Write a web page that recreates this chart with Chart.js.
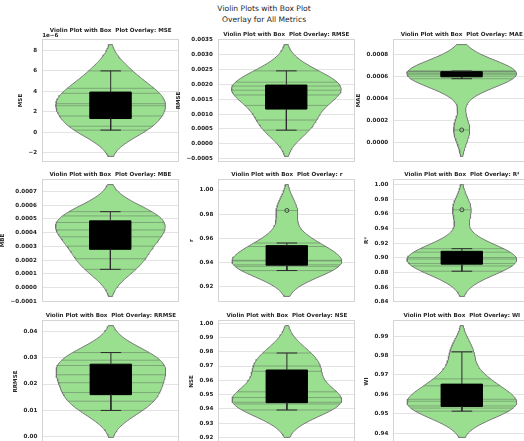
<!DOCTYPE html>
<html>
<head>
<meta charset="utf-8">
<script src="https://cdn.jsdelivr.net/npm/chart.js@4.4.1/dist/chart.umd.min.js"></script>
<style>
  html, body { margin: 0; padding: 0; background: #fff; width: 524px; height: 441px; overflow: hidden; position: relative; }
  #suptitle { position: absolute; left: 0; top: 3px; width: 528px; text-align: center;
              font-family: 'DejaVu Sans', sans-serif; font-size: 7.6px; line-height: 11px; color: #262626; }
  .panel { position: absolute; }
</style>
</head>
<body>
<div id="suptitle">Violin Plots with Box Plot<br>Overlay for All Metrics</div>
<script>
// ---- observations per metric ----
const metricNames = ['MSE', 'RMSE', 'MAE', 'MBE', 'r', 'R²', 'RRMSE', 'NSE', 'WI'];
const mseValues   = [0.22e-6, 0.60e-6, 1.60e-6, 2.60e-6, 2.80e-6, 3.81e-6, 4.30e-6, 6.00e-6];
const rmseValues  = [0.00046, 0.00080, 0.00129, 0.00164, 0.00180, 0.00194, 0.00207, 0.00245];
const maeValues   = [0.000113, 0.000580, 0.000603, 0.000620, 0.000630, 0.000643, 0.000648, 0.000650];
const mbeValues   = [0.000133, 0.000210, 0.000302, 0.000370, 0.000420, 0.000474, 0.000522, 0.000553];
const rValues     = [0.9330, 0.9365, 0.9378, 0.9410, 0.9415, 0.9530, 0.9559, 0.9830];
const r2Values    = [0.8818, 0.8890, 0.8923, 0.8985, 0.9005, 0.9078, 0.9126, 0.9657];
const rrmseValues = [0.0100, 0.0135, 0.0168, 0.0205, 0.0235, 0.0270, 0.0290, 0.0319];
const nseValues   = [0.9393, 0.9435, 0.9447, 0.9480, 0.9520, 0.9663, 0.9700, 0.9791];
const wiValues    = [0.9514, 0.9530, 0.9541, 0.9565, 0.9575, 0.9644, 0.9680, 0.9819];

// ---- tick values per axis ----
const mseTicks   = [-2e-6, 0, 2e-6, 4e-6, 6e-6, 8e-6];
const rmseTicks  = [-0.0005, 0, 0.0005, 0.0010, 0.0015, 0.0020, 0.0025, 0.0030, 0.0035];
const maeTicks   = [0, 0.0002, 0.0004, 0.0006, 0.0008];
const mbeTicks   = [-0.0001, 0, 0.0001, 0.0002, 0.0003, 0.0004, 0.0005, 0.0006, 0.0007];
const rTicks     = [0.92, 0.94, 0.96, 0.98, 1.00];
const r2Ticks    = [0.84, 0.86, 0.88, 0.90, 0.92, 0.94, 0.96, 0.98, 1.00];
const rrmseTicks = [0.00, 0.01, 0.02, 0.03, 0.04];
const nseTicks   = [0.92, 0.93, 0.94, 0.95, 0.96, 0.97, 0.98, 0.99, 1.00];
const wiTicks    = [0.94, 0.95, 0.96, 0.97, 0.98, 0.99];

// ---- styling ----
const FONT = "'DejaVu Sans', sans-serif";
const TEXT = '#262626';
const VIOLIN_FILL = 'rgb(153,223,143)';
const VIOLIN_EDGE = 'rgb(118,118,118)';
const STICK = 'rgba(95,105,95,0.6)';
const GRID = '#e3e3e3';
const FRAME = '#d4d4d4';
const SIZE = 5.6;
Chart.defaults.font.family = FONT;

const minus = s => s.replace('-', '\u2212');
const fixed = d => v => minus(Math.abs(v) < 1e-12 ? (0).toFixed(d) : v.toFixed(d));
const scaled = k => v => minus(String(Math.round(v / k)));

const panels = [
  { values: mseValues,   ticks: mseTicks,   fmt: scaled(1e-6), offset: '1e\u22126' },
  { values: rmseValues,  ticks: rmseTicks,  fmt: fixed(4) },
  { values: maeValues,   ticks: maeTicks,   fmt: fixed(4) },
  { values: mbeValues,   ticks: mbeTicks,   fmt: fixed(4) },
  { values: rValues,     ticks: rTicks,     fmt: fixed(2) },
  { values: r2Values,    ticks: r2Ticks,    fmt: fixed(2) },
  { values: rrmseValues, ticks: rrmseTicks, fmt: fixed(2) },
  { values: nseValues,   ticks: nseTicks,   fmt: fixed(2) },
  { values: wiValues,    ticks: wiTicks,    fmt: fixed(2) }
];

// plot-area placement of the 3x3 grid
const colX = [42, 218, 393];
const rowY = [39, 179, 320];
const AX_W = 137, AX_H = 123, TOP_PAD = 16;

// Gaussian KDE (Scott's rule), cut at 2 bandwidths, widest point = 0.4
function violin(vals) {
  const n = vals.length;
  const mean = vals.reduce((a, b) => a + b, 0) / n;
  const sd = Math.sqrt(vals.reduce((a, b) => a + (b - mean) ** 2, 0) / (n - 1));
  const bw = sd * Math.pow(n, -0.2);
  const kde = y => vals.reduce((s, x) => s + Math.exp(-0.5 * ((y - x) / bw) ** 2), 0);
  const lo = Math.min(...vals) - 2 * bw, hi = Math.max(...vals) + 2 * bw;
  const ys = [], ds = [];
  for (let i = 0; i < 100; i++) { const y = lo + (hi - lo) * i / 99; ys.push(y); ds.push(kde(y)); }
  const peak = Math.max(...ds);
  const half = d => 0.4 * d / peak;
  const outline = [];
  ys.forEach((y, i) => outline.push({ x: half(ds[i]), y }));
  for (let i = ys.length - 1; i >= 0; i--) outline.push({ x: -half(ds[i]), y: ys[i] });
  outline.push({ x: outline[0].x, y: outline[0].y });
  const sticks = [];
  vals.forEach(v => { const w = half(kde(v)); sticks.push({ x: -w, y: v }, { x: w, y: v }, { x: null, y: null }); });
  const pad = 0.05 * (hi - lo);
  return { outline, sticks, limits: [lo - pad, hi + pad] };
}

function quantile(sorted, q) {
  const pos = (sorted.length - 1) * q, i = Math.floor(pos), f = pos - i;
  return i + 1 < sorted.length ? sorted[i] + f * (sorted[i + 1] - sorted[i]) : sorted[i];
}

function boxStats(vals) {
  const s = [...vals].sort((a, b) => a - b);
  const q1 = quantile(s, 0.25), med = quantile(s, 0.5), q3 = quantile(s, 0.75);
  const iqr = q3 - q1;
  const inside = s.filter(v => v >= q1 - 1.5 * iqr && v <= q3 + 1.5 * iqr);
  return { q1, med, q3, lo: Math.min(...inside), hi: Math.max(...inside),
           fliers: s.filter(v => v < q1 - 1.5 * iqr || v > q3 + 1.5 * iqr) };
}

const panelDecor = {
  id: 'panelDecor',
  beforeDatasetsDraw(chart, args, opts) {
    const a = chart.chartArea, ctx = chart.ctx;
    ctx.save();
    ctx.strokeStyle = FRAME; ctx.lineWidth = 1;
    ctx.strokeRect(Math.round(a.left) + 0.5, Math.round(a.top) + 0.5,
                   Math.round(a.right - a.left) - 1, Math.round(a.bottom - a.top) - 1);
    ctx.restore();
  },
  afterDraw(chart, args, opts) {
    const a = chart.chartArea, ctx = chart.ctx;
    ctx.save();
    ctx.fillStyle = TEXT;
    ctx.font = `bold ${SIZE}px ${FONT}`;
    ctx.textBaseline = 'alphabetic';
    ctx.textAlign = 'center';
    ctx.fillText(opts.title, (a.left + a.right) / 2, a.top - (opts.offset ? 7.5 : 3.5));
    if (opts.offset) { ctx.textAlign = 'left'; ctx.fillText(opts.offset, a.left, a.top - 2); }
    ctx.restore();
  }
};

panels.forEach((p, i) => {
  const name = metricNames[i];
  const v = violin(p.values);
  const b = boxStats(p.values);
  const BW = 0.15, CAP = 0.075;
  const boxPoly = [{x: -BW, y: b.q1}, {x: BW, y: b.q1}, {x: BW, y: b.q3}, {x: -BW, y: b.q3}, {x: -BW, y: b.q1}];
  const whiskers = [
    {x: 0, y: b.q3}, {x: 0, y: b.hi}, {x: null, y: null},
    {x: 0, y: b.q1}, {x: 0, y: b.lo}, {x: null, y: null},
    {x: -CAP, y: b.hi}, {x: CAP, y: b.hi}, {x: null, y: null},
    {x: -CAP, y: b.lo}, {x: CAP, y: b.lo}
  ];
  const median = [{x: -BW, y: b.med}, {x: BW, y: b.med}];
  const fliers = b.fliers.map(y => ({x: 0, y}));

  const wrap = document.createElement('div');
  wrap.className = 'panel';
  const cv = document.createElement('canvas');
  cv.width = 200; cv.height = 160;
  wrap.appendChild(cv);
  document.body.appendChild(wrap);

  const chart = new Chart(cv, {
    type: 'line',
    data: { datasets: [
      { data: v.outline, fill: 'shape', backgroundColor: VIOLIN_FILL, borderColor: VIOLIN_EDGE, borderWidth: 1, pointRadius: 0, order: 6 },
      { data: v.sticks, fill: false, borderColor: STICK, borderWidth: 0.8, pointRadius: 0, order: 5 },
      { data: boxPoly, fill: 'shape', backgroundColor: '#000', borderColor: '#000', borderWidth: 1, pointRadius: 0, order: 4 },
      { data: median, fill: false, borderColor: '#000', borderWidth: 1, pointRadius: 0, order: 3 },
      { data: whiskers, fill: false, borderColor: '#2b2b2b', borderWidth: 1, pointRadius: 0, order: 2 },
      { data: fliers, showLine: false, pointRadius: 2, pointStyle: 'circle', pointBorderColor: '#3a3a3a',
        pointBackgroundColor: 'rgba(0,0,0,0)', pointBorderWidth: 0.9, order: 1 }
    ]},
    options: {
      responsive: false, animation: false, events: [],
      layout: { padding: { top: TOP_PAD, right: 0, bottom: 0, left: 0 } },
      plugins: { legend: { display: false }, tooltip: { enabled: false },
                 panelDecor: { title: 'Violin Plot with Box  Plot Overlay: ' + name, offset: p.offset } },
      scales: {
        x: { type: 'linear', min: -0.5, max: 0.5, display: false },
        y: { type: 'linear', min: v.limits[0], max: v.limits[1],
             afterBuildTicks: s => { s.ticks = p.ticks.map(t => ({ value: t })); },
             ticks: { autoSkip: false, padding: 5, color: TEXT, font: { size: SIZE, weight: 'bold' },
                      callback: val => p.fmt(val) },
             grid: { color: GRID, lineWidth: 1, drawTicks: false },
             border: { display: false },
             title: { display: true, text: name, color: TEXT,
                      font: { size: SIZE, weight: 'bold', lineHeight: 1 },
                      padding: { top: 0, bottom: 0 } } }
      }
    },
    plugins: [panelDecor]
  });

  // size the plot area to the grid cell and place the canvas
  const a = chart.chartArea;
  chart.options.layout.padding = { top: TOP_PAD, left: 0,
    right: cv.width - a.left - AX_W, bottom: cv.height - TOP_PAD - AX_H };
  chart.update();
  const col = i % 3, row = Math.floor(i / 3);
  wrap.style.left = (colX[col] - chart.chartArea.left) + 'px';
  wrap.style.top = (rowY[row] - chart.chartArea.top) + 'px';
});
</script>
</body>
</html>
